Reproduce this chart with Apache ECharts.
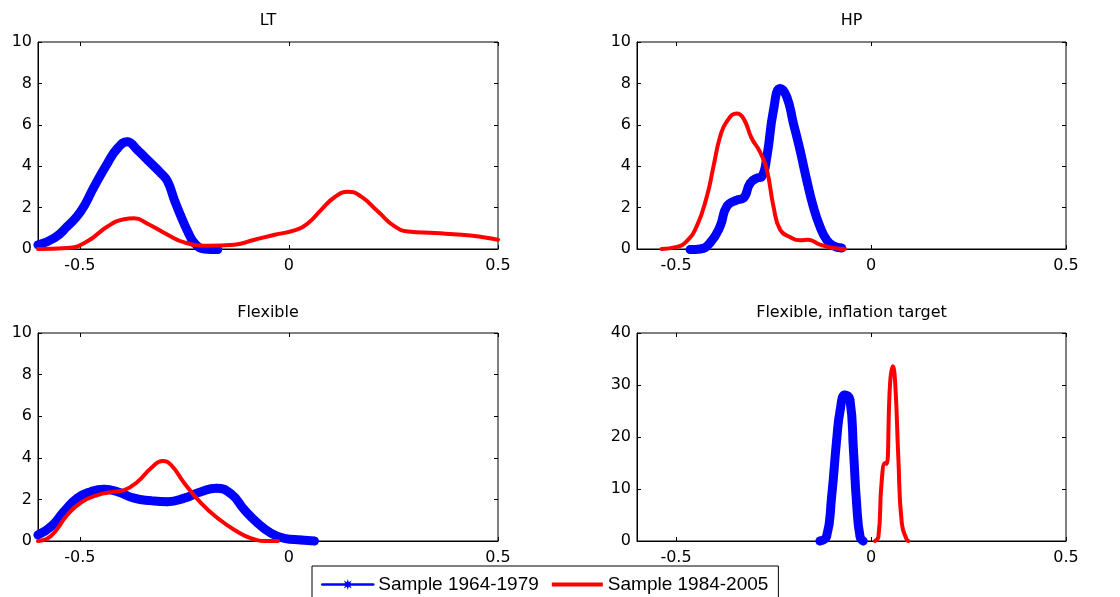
<!DOCTYPE html>
<html>
<head>
<meta charset="utf-8">
<script src="https://cdn.jsdelivr.net/npm/echarts@6/dist/echarts.min.js"></script>
<style>
	html, body { margin: 0; padding: 0; background: #fff; }
	#chart { width: 1120px; height: 597px; }
</style>
</head>
<body>
<div id="chart"></div>
<script type="text/javascript">
// values, [x, density]
var titles = ['LT', 'HP', 'Flexible', 'Flexible, inflation target'];
var seriesNames = ['Sample 1964-1979', 'Sample 1984-2005'];
var xTicks = [-0.5, 0, 0.5];
var yMax = [10, 10, 10, 40];
var yStep = [2, 2, 2, 10];

var ltBlue = [[-0.6,0.2],[-0.561,0.53],[-0.53,1.09],[-0.498,1.81],[-0.466,3.0],[-0.434,4.14],[-0.41,4.86],[-0.387,5.18],[-0.362,4.78],[-0.338,4.3],[-0.306,3.66],[-0.29,3.26],[-0.274,2.37],[-0.258,1.57],[-0.242,0.85],[-0.226,0.29],[-0.202,0.0],[-0.17,-0.03]];
var ltRed = [[-0.6,0.0],[-0.53,0.05],[-0.482,0.37],[-0.434,1.09],[-0.394,1.44],[-0.37,1.49],[-0.338,1.22],[-0.29,0.69],[-0.25,0.32],[-0.194,0.16],[-0.13,0.21],[-0.082,0.45],[-0.034,0.69],[0.013,0.9],[0.046,1.25],[0.077,1.89],[0.109,2.5],[0.141,2.77],[0.173,2.53],[0.213,1.81],[0.253,1.09],[0.285,0.85],[0.349,0.77],[0.413,0.69],[0.461,0.58],[0.5,0.45]];

var hpBlue = [[-0.464,-0.03],[-0.438,0.0],[-0.413,0.29],[-0.387,1.09],[-0.37,2.05],[-0.344,2.37],[-0.327,2.46],[-0.31,3.18],[-0.293,3.42],[-0.28,3.5],[-0.267,4.46],[-0.25,6.71],[-0.233,7.75],[-0.216,7.35],[-0.199,6.07],[-0.182,4.78],[-0.165,3.34],[-0.148,2.05],[-0.131,1.09],[-0.114,0.45],[-0.097,0.16],[-0.075,0.05]];
var hpRed = [[-0.537,0],[-0.498,0.1],[-0.473,0.37],[-0.447,1.09],[-0.421,2.53],[-0.404,3.98],[-0.387,5.42],[-0.37,6.15],[-0.344,6.55],[-0.327,6.31],[-0.306,5.35],[-0.285,4.7],[-0.267,3.82],[-0.25,2.05],[-0.233,0.93],[-0.208,0.58],[-0.182,0.42],[-0.161,0.45],[-0.131,0.21],[-0.097,0.05],[-0.067,0.0]];

var flexBlue = [[-0.6,0.29],[-0.569,0.69],[-0.538,1.41],[-0.506,2.06],[-0.474,2.37],[-0.442,2.49],[-0.41,2.37],[-0.37,2.06],[-0.33,1.94],[-0.29,1.89],[-0.25,2.06],[-0.21,2.37],[-0.174,2.54],[-0.138,2.26],[-0.106,1.49],[-0.074,0.85],[-0.042,0.37],[-0.011,0.13],[0.029,0.05],[0.061,0.0]];
var flexRed = [[-0.6,0.0],[-0.569,0.24],[-0.53,1.25],[-0.498,1.84],[-0.458,2.21],[-0.418,2.37],[-0.394,2.45],[-0.362,2.85],[-0.33,3.5],[-0.302,3.85],[-0.282,3.66],[-0.25,2.78],[-0.21,1.82],[-0.17,1.09],[-0.13,0.53],[-0.09,0.13],[-0.051,0.0],[-0.026,0.0]];

var infBlue = [[-0.131,0],[-0.114,0.83],[-0.101,8.5],[-0.088,19.5],[-0.079,25.2],[-0.067,28.1],[-0.054,27.2],[-0.045,17.5],[-0.037,7.3],[-0.028,0.8],[-0.02,0]];
var infRed = [[0.01,0],[0.019,0.8],[0.027,11.1],[0.036,15.0],[0.04,14.8],[0.049,30.4],[0.056,33.6],[0.062,30.4],[0.07,16.2],[0.079,3.4],[0.092,0.2],[0.096,0]];

var panels = [[ltBlue, ltRed], [hpBlue, hpRed], [flexBlue, flexRed], [infBlue, infRed]];

var grids = [
	{left: 38, top: 42, width: 460, height: 207},
	{left: 637, top: 42, width: 429, height: 207},
	{left: 38, top: 333, width: 460, height: 208},
	{left: 637, top: 333, width: 429, height: 208}
];
var titleTops = [13, 13, 305, 305];

// 8-point star, like matlab's '*' marker
function starPath() {
	var pts = [];
	for (var i = 0; i < 16; i++) {
		var a = Math.PI * i / 8;
		var r = (i % 2 == 0) ? 10 : 4.5;
		pts.push((10 + r * Math.sin(a)).toFixed(2) + ' ' + (10 - r * Math.cos(a)).toFixed(2));
	}
	return 'path://M' + pts.join(' L') + ' Z';
}
var star = starPath();
// plain thick line for the red legend entry (moves pin the box to 51x14)
var redIcon = 'path://M0 0 M51 14 M0 5 L51 5 L51 9 L0 9 Z';

var font = 'DejaVu Sans';
var option = {
	animation: false,
	backgroundColor: '#fff',
	title: [],
	grid: [],
	xAxis: [],
	yAxis: [],
	series: [],
	legend: {
		left: 312,
		top: 566,
		padding: [9, 10, 9, 9],
		itemGap: 13,
		itemWidth: 51,
		itemHeight: 14,
		borderColor: '#000',
		borderWidth: 1,
		borderRadius: 0,
		backgroundColor: '#fff',
		textStyle: {color: '#000', fontFamily: 'Liberation Sans', fontSize: 19},
		data: [
			{name: seriesNames[0], lineStyle: {width: 2.5}},
			{name: seriesNames[1], icon: redIcon, itemStyle: {color: '#ff0000'}}
		]
	}
};

function each(arr, fn) { for (var i = 0; i < arr.length; i++) fn(i, arr[i]); }

each(grids, function(i, g) {
	option.title.push({
		text: titles[i],
		left: g.left + g.width / 2,
		top: titleTops[i],
		textAlign: 'center',
		padding: 0,
		textStyle: {color: '#000', fontFamily: font, fontSize: 16, fontWeight: 'normal'}
	});
	option.grid.push({
		left: g.left, top: g.top, width: g.width, height: g.height,
		show: true, borderColor: '#000', borderWidth: 1, backgroundColor: 'transparent'
	});
});

// bottom / left axes with labels
each(grids, function(i) {
	option.xAxis.push({
		type: 'value', gridIndex: i, min: -0.6, max: 0.5, position: 'bottom',
		axisLine: {show: true, onZero: false, lineStyle: {color: '#000', width: 1}},
		axisTick: {show: true, inside: true, length: 4, customValues: xTicks, lineStyle: {color: '#000'}},
		axisLabel: {show: true, customValues: xTicks, margin: 9, color: '#000', fontFamily: font, fontSize: 16},
		splitLine: {show: false}
	});
	option.yAxis.push({
		type: 'value', gridIndex: i, min: 0, max: yMax[i], interval: yStep[i], position: 'left',
		axisLine: {show: true, onZero: false, lineStyle: {color: '#000', width: 1}},
		axisTick: {show: true, inside: true, length: 4, lineStyle: {color: '#000'}},
		axisLabel: {show: true, margin: 6, color: '#000', fontFamily: font, fontSize: 16},
		splitLine: {show: false}
	});
});
// top / right mirror ticks
each(grids, function(i) {
	option.xAxis.push({
		type: 'value', gridIndex: i, min: -0.6, max: 0.5, position: 'top',
		axisLine: {show: false, onZero: false},
		axisTick: {show: true, inside: true, length: 4, customValues: xTicks, lineStyle: {color: '#000'}},
		axisLabel: {show: false},
		splitLine: {show: false}
	});
	option.yAxis.push({
		type: 'value', gridIndex: i, min: 0, max: yMax[i], interval: yStep[i], position: 'right',
		axisLine: {show: false, onZero: false},
		axisTick: {show: true, inside: true, length: 4, lineStyle: {color: '#000'}},
		axisLabel: {show: false},
		splitLine: {show: false}
	});
});

each(panels, function(i, p) {
	option.series.push({
		name: seriesNames[0],
		type: 'line',
		xAxisIndex: i, yAxisIndex: i,
		data: p[0],
		smooth: 0.5,
		clip: false,
		symbol: star,
		symbolSize: 10,
		showSymbol: true,
		itemStyle: {color: '#0000ff'},
		lineStyle: {color: '#0000ff', width: 9, join: 'round', cap: 'round'},
		z: 2
	});
	option.series.push({
		name: seriesNames[1],
		type: 'line',
		xAxisIndex: i, yAxisIndex: i,
		data: p[1],
		smooth: 0.5,
		clip: false,
		symbol: 'none',
		itemStyle: {color: '#ff0000'},
		lineStyle: {color: '#ff0000', width: 4, join: 'round', cap: 'round'},
		z: 3
	});
});

var myChart = echarts.init(document.getElementById('chart'), null, {renderer: 'canvas'});
myChart.setOption(option);
</script>
</body>
</html>
